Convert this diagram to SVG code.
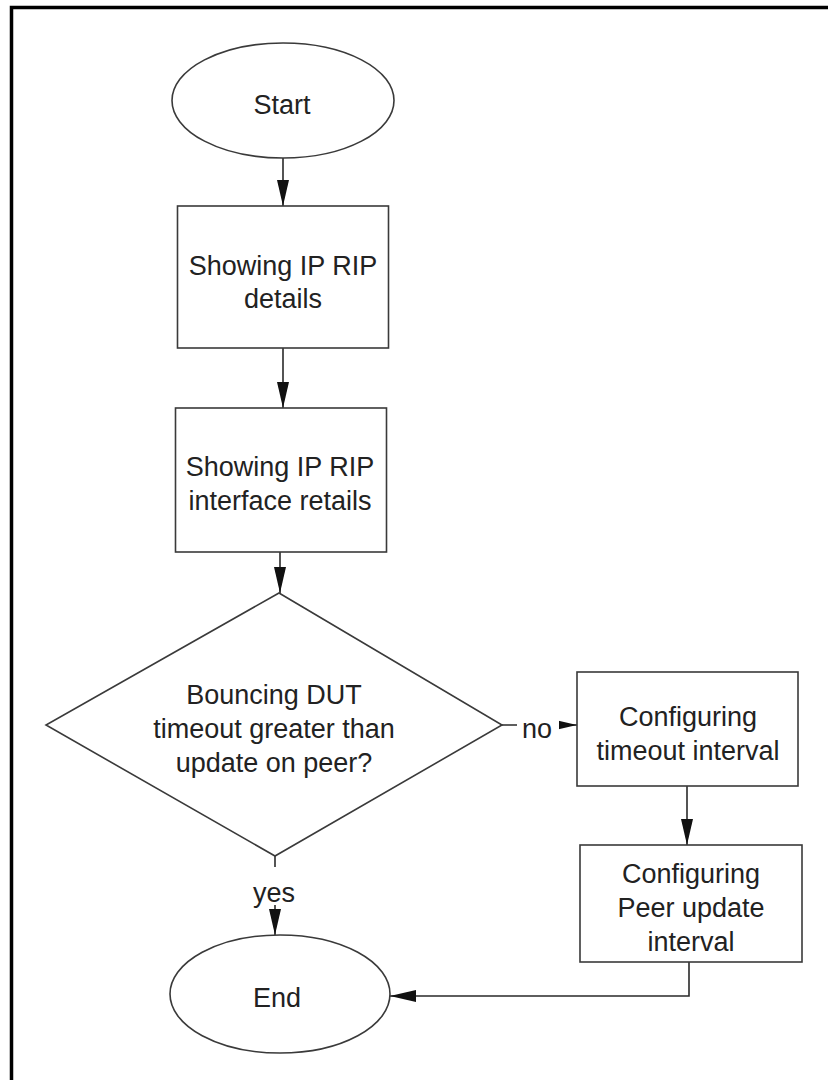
<svg xmlns="http://www.w3.org/2000/svg" width="828" height="1080" viewBox="0 0 828 1080">
<defs>
<style>
.shape{fill:#fff;stroke:#3a3a3a;stroke-width:1.6}
.lbl{font-family:"Liberation Sans",Arial,Helvetica,sans-serif;font-size:27px;fill:#222;text-anchor:middle}
.conn{fill:none;stroke:#2a2a2a;stroke-width:1.6}
.frame{stroke:#000;stroke-width:3.5;fill:none}
</style>
<marker id="ah" markerUnits="userSpaceOnUse" markerWidth="28" markerHeight="14" refX="26" refY="6" orient="auto">
<path d="M0,0 L26,6 L0,12 Z" fill="#111"/>
</marker>
</defs>
<rect width="828" height="1080" fill="#fff"/>
<path class="frame" d="M11.5,1080 V7.5 H828"/>

<g id="connectors">
<line class="conn" x1="283" y1="158" x2="283" y2="206" marker-end="url(#ah)"/>
<line class="conn" x1="283" y1="348" x2="283" y2="408" marker-end="url(#ah)"/>
<line class="conn" x1="280" y1="552" x2="280" y2="593" marker-end="url(#ah)"/>
<g id="edge-no">
<line class="conn" x1="502" y1="725" x2="577" y2="725" marker-end="url(#ah)"/>
<rect x="517" y="708" width="42" height="36" fill="#fff"/>
<text class="lbl" x="537" y="738">no</text>
</g>
<line class="conn" x1="687" y1="786" x2="687" y2="845" marker-end="url(#ah)"/>
<g id="edge-yes">
<line class="conn" x1="275" y1="856" x2="275" y2="935" marker-end="url(#ah)"/>
<rect x="250" y="867" width="50" height="38" fill="#fff"/>
<text class="lbl" x="274" y="902">yes</text>
</g>
<polyline class="conn" points="689,962 689,996 390,996" marker-end="url(#ah)"/>
</g>

<g id="start">
<ellipse class="shape" cx="283" cy="100.5" rx="111" ry="57.5"/>
<text class="lbl" x="282" y="114">Start</text>
</g>
<g id="show-rip-details">
<rect class="shape" x="177.5" y="206" width="211" height="142"/>
<text class="lbl" x="283" y="275">Showing IP RIP</text>
<text class="lbl" x="283" y="308">details</text>
</g>
<g id="show-rip-interface">
<rect class="shape" x="175.5" y="408" width="211" height="144"/>
<text class="lbl" x="280" y="476">Showing IP RIP</text>
<text class="lbl" x="280" y="510">interface retails</text>
</g>
<g id="decision">
<polygon class="shape" points="279,593 502,725 275,856 46,725"/>
<text class="lbl" x="274" y="704">Bouncing DUT</text>
<text class="lbl" x="274" y="738">timeout greater than</text>
<text class="lbl" x="274" y="772">update on peer?</text>
</g>
<g id="config-timeout">
<rect class="shape" x="577" y="672" width="221" height="114"/>
<text class="lbl" x="688" y="726">Configuring</text>
<text class="lbl" x="688" y="760">timeout interval</text>
</g>
<g id="config-peer">
<rect class="shape" x="580" y="845" width="222" height="117"/>
<text class="lbl" x="691" y="883">Configuring</text>
<text class="lbl" x="691" y="917">Peer update</text>
<text class="lbl" x="691" y="951">interval</text>
</g>
<g id="end">
<ellipse class="shape" cx="280" cy="994" rx="110" ry="59"/>
<text class="lbl" x="277" y="1007">End</text>
</g>
</svg>
